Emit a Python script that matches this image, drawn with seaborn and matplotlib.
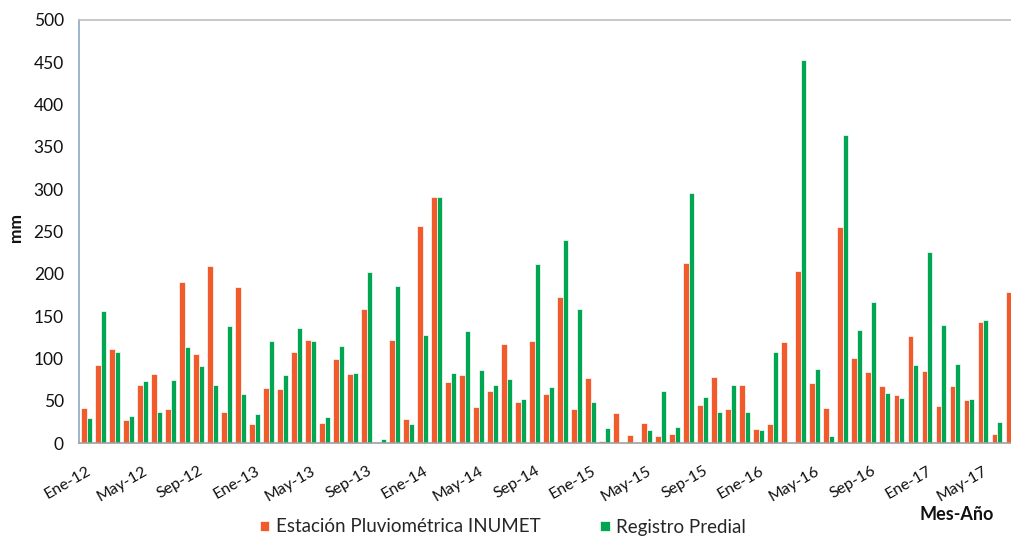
import matplotlib
matplotlib.use("Agg")
import matplotlib.pyplot as plt
import seaborn as sns
import pandas as pd

# Monthly rainfall (mm), January 2012 - July 2017
meses = ["Ene", "Feb", "Mar", "Abr", "May", "Jun", "Jul", "Ago", "Sep", "Oct", "Nov", "Dic"]
periodos = [f"{m}-{a}" for a in range(12, 18) for m in meses][:67]

inumet = [41, 92, 111, 27, 69, 81, 40, 190, 105, 209, 37, 184,
          23, 65, 64, 108, 122, 24, 99, 81, 158, 0, 122, 28,
          256, 291, 72, 80, 43, 62, 117, 48, 121, 58, 173, 40,
          77, 2, 35, 9, 24, 8, 11, 213, 45, 78, 40, 69,
          16, 22, 119, 203, 71, 41, 255, 101, 84, 67, 57, 126,
          85, 44, 67, 51, 143, 11, 179]

predial = [30, 156, 107, 32, 73, 37, 75, 113, 91, 69, 138, 58,
           34, 121, 80, 136, 121, 31, 115, 83, 202, 5, 186, 22,
           128, 291, 83, 132, 86, 68, 76, 52, 212, 66, 240, 158,
           48, 18, 0, 0, 15, 62, 19, 296, 54, 37, 68, 37,
           15, 108, 0, 453, 88, 8, 364, 133, 167, 59, 53, 92,
           226, 140, 93, 52, 145, 25, 202]

serie_a = "Estación Pluviométrica INUMET"
serie_b = "Registro Predial"
colores = {serie_a: "#F15A2B", serie_b: "#00A651"}

df = pd.concat([
    pd.DataFrame({"periodo": periodos, "mm": inumet, "serie": serie_a}),
    pd.DataFrame({"periodo": periodos, "mm": predial, "serie": serie_b}),
])

sns.set_theme(style="white")
plt.rcParams["font.family"] = ["Lato", "DejaVu Sans"]

fig = plt.figure(figsize=(10.11, 5.38), dpi=100)
ax = fig.add_axes([79 / 1011, 1 - 443 / 538, (1018 - 79) / 1011, 423 / 538])

sns.barplot(data=df, x="periodo", y="mm", hue="serie", order=periodos,
            hue_order=[serie_a, serie_b], palette=colores, saturation=1,
            width=0.78, errorbar=None, edgecolor="white", linewidth=0.5, ax=ax)

ax.set_ylim(0, 500)
ax.set_xlim(-0.55, 66.5)
ax.set_yticks(range(0, 501, 50))
ax.tick_params(axis="y", labelsize=12.5, pad=11, length=0, colors="#111111")

idx = list(range(0, len(periodos), 4))
ax.set_xticks(idx)
ax.set_xticklabels([periodos[i] for i in idx], rotation=30, ha="right",
                   va="top", rotation_mode="anchor", fontsize=11.5,
                   color="#111111")
ax.tick_params(axis="x", length=0, pad=15)

ax.set_xlabel("")
ax.set_ylabel("mm", fontsize=12.5, fontweight="bold", color="#111111")
ax.yaxis.set_label_coords(-0.059, 0.51)

ax.spines["right"].set_visible(False)
ax.spines["top"].set_color("#BFBFBF")
ax.spines["left"].set_color("#8EA8C3")
ax.spines["bottom"].set_color("#A0A0A0")
for s in ("top", "left", "bottom"):
    ax.spines[s].set_linewidth(1.2)

handles, labels = ax.get_legend_handles_labels()
ax.get_legend().remove()
fig.legend(handles, labels, loc="center", bbox_to_anchor=(503 / 1011, 1 - 527 / 538),
           ncol=2, frameon=False, fontsize=13.5, handlelength=0.5,
           handleheight=0.5, handletextpad=0.35, columnspacing=3.2)

fig.text(957 / 1011, 1 - 515 / 538, "Mes-Año", ha="center", va="center",
         fontsize=13, fontweight="bold", color="#111111")

fig.savefig("out.png", dpi=100)
